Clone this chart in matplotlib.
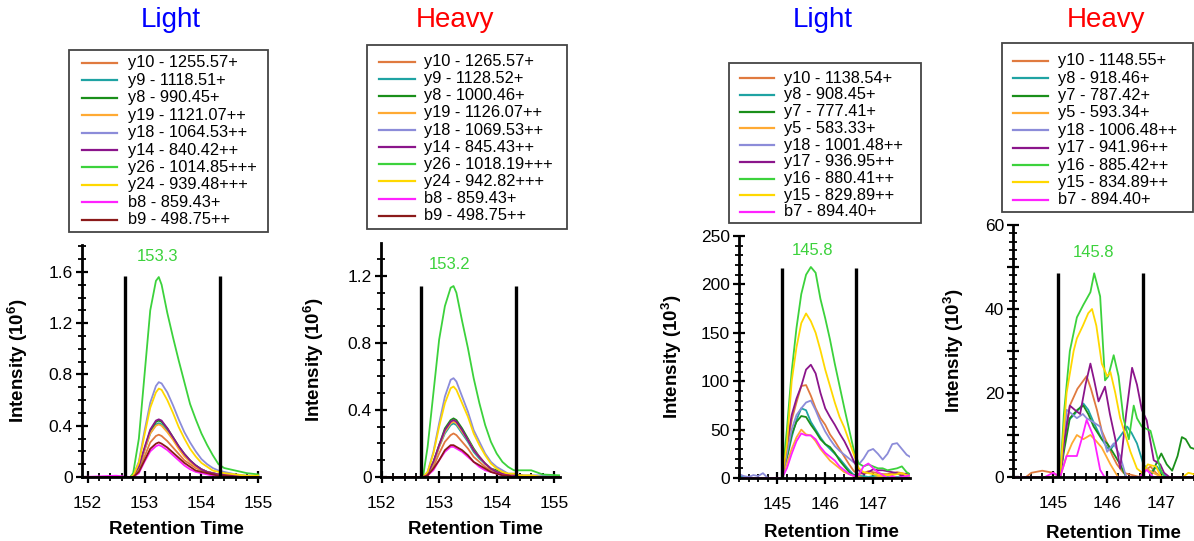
import matplotlib
matplotlib.use("Agg")
import matplotlib.pyplot as plt
from matplotlib import rcParams
from matplotlib.lines import Line2D
from matplotlib.patches import Rectangle
from matplotlib.ticker import MultipleLocator, FuncFormatter

rcParams['font.family'] = 'sans-serif'
rcParams['font.sans-serif'] = ['Liberation Sans', 'DejaVu Sans']
rcParams['mathtext.fontset'] = 'custom'
rcParams['mathtext.rm'] = 'Liberation Sans'
rcParams['mathtext.bf'] = 'Liberation Sans:bold'

# ---------------- data ----------------
colours = ['#E07A3F', '#1FA3A3', '#1A8F1A', '#FFAA33', '#8C8CD9',
           '#8B158B', '#3CD23C', '#FFD800', '#FF22FF', '#8B1A1A']

# panel 1 : Light, first peptide (intensity x 10^6)
light1_labels = ['y10 - 1255.57+', 'y9 - 1118.51+', 'y8 - 990.45+', 'y19 - 1121.07++',
                 'y18 - 1064.53++', 'y14 - 840.42++', 'y26 - 1014.85+++', 'y24 - 939.48+++',
                 'b8 - 859.43+', 'b9 - 498.75++']
light1_time = [151.9, 152.5, 152.75, 152.8, 152.9, 153.0, 153.1, 153.2, 153.25, 153.3, 153.4, 153.5,
               153.6, 153.7, 153.8, 153.9, 154.0, 154.1, 154.2, 154.3, 154.4, 154.6, 154.8, 155.0]
light1_int = [
    [0, 0, 0, 0.01, 0.05, 0.16, 0.27, 0.32, 0.33, 0.32, 0.28, 0.23, 0.18, 0.13, 0.1, 0.07, 0.05, 0.03, 0.02, 0.02, 0.01, 0.01, 0, 0],
    [0, 0, 0, 0.01, 0.07, 0.21, 0.34, 0.41, 0.42, 0.41, 0.36, 0.3, 0.23, 0.17, 0.12, 0.09, 0.06, 0.04, 0.03, 0.02, 0.01, 0.01, 0, 0],
    [0, 0, 0, 0.01, 0.07, 0.22, 0.36, 0.43, 0.44, 0.43, 0.38, 0.31, 0.24, 0.18, 0.13, 0.09, 0.06, 0.04, 0.03, 0.02, 0.02, 0.01, 0, 0],
    [0, 0, 0, 0.01, 0.07, 0.21, 0.34, 0.4, 0.41, 0.4, 0.35, 0.29, 0.22, 0.16, 0.12, 0.08, 0.06, 0.04, 0.03, 0.02, 0.01, 0.01, 0, 0],
    [0, 0, 0, 0.01, 0.12, 0.36, 0.58, 0.71, 0.74, 0.73, 0.66, 0.56, 0.45, 0.35, 0.27, 0.2, 0.14, 0.1, 0.07, 0.05, 0.04, 0.02, 0.01, 0.01],
    [0, 0, 0, 0.01, 0.08, 0.23, 0.37, 0.44, 0.45, 0.44, 0.38, 0.31, 0.24, 0.18, 0.13, 0.09, 0.06, 0.04, 0.03, 0.02, 0.02, 0.01, 0, 0],
    [0, 0, 0, 0.03, 0.3, 0.8, 1.3, 1.53, 1.56, 1.5, 1.28, 1.09, 0.91, 0.74, 0.57, 0.45, 0.34, 0.25, 0.17, 0.1, 0.07, 0.05, 0.03, 0.02],
    [0, 0, 0, 0.01, 0.11, 0.33, 0.54, 0.66, 0.69, 0.68, 0.6, 0.5, 0.39, 0.3, 0.22, 0.16, 0.11, 0.08, 0.05, 0.04, 0.03, 0.02, 0.01, 0.01],
    [0, 0.01, 0, 0, 0.03, 0.12, 0.2, 0.24, 0.25, 0.24, 0.21, 0.17, 0.13, 0.09, 0.06, 0.04, 0.03, 0.02, 0.01, 0.01, 0, 0, 0, 0],
    [0, 0, 0, 0, 0.04, 0.13, 0.22, 0.26, 0.27, 0.26, 0.23, 0.19, 0.15, 0.11, 0.08, 0.05, 0.04, 0.03, 0.02, 0.01, 0.01, 0, 0, 0],
]

# panel 2 : Heavy, first peptide (intensity x 10^6)
heavy1_labels = ['y10 - 1265.57+', 'y9 - 1128.52+', 'y8 - 1000.46+', 'y19 - 1126.07++',
                 'y18 - 1069.53++', 'y14 - 845.43++', 'y26 - 1018.19+++', 'y24 - 942.82+++',
                 'b8 - 859.43+', 'b9 - 498.75++']
heavy1_time = [151.95, 152.5, 152.72, 152.8, 152.9, 153.0, 153.1, 153.2, 153.25, 153.3, 153.4, 153.5,
               153.6, 153.7, 153.8, 153.9, 154.0, 154.1, 154.2, 154.3, 154.4, 154.6, 154.8, 155.1]
heavy1_int = [
    [0, 0, 0, 0.01, 0.06, 0.14, 0.21, 0.25, 0.26, 0.25, 0.21, 0.17, 0.12, 0.09, 0.06, 0.04, 0.03, 0.02, 0.01, 0.01, 0, 0, 0, 0],
    [0, 0, 0, 0.02, 0.08, 0.18, 0.26, 0.31, 0.32, 0.31, 0.26, 0.21, 0.15, 0.11, 0.08, 0.05, 0.03, 0.02, 0.01, 0.01, 0.01, 0, 0, 0],
    [0, 0, 0, 0.02, 0.09, 0.19, 0.29, 0.34, 0.35, 0.34, 0.29, 0.23, 0.17, 0.12, 0.08, 0.05, 0.04, 0.02, 0.01, 0.01, 0.01, 0, 0, 0],
    [0, 0, 0, 0.02, 0.08, 0.18, 0.27, 0.32, 0.33, 0.32, 0.27, 0.22, 0.16, 0.12, 0.08, 0.05, 0.03, 0.02, 0.01, 0.01, 0.01, 0, 0, 0],
    [0, 0, 0, 0.03, 0.15, 0.32, 0.48, 0.58, 0.59, 0.57, 0.48, 0.39, 0.28, 0.21, 0.14, 0.09, 0.06, 0.04, 0.02, 0.02, 0.01, 0.01, 0.01, 0],
    [0, 0, 0, 0.02, 0.09, 0.19, 0.28, 0.33, 0.34, 0.33, 0.28, 0.22, 0.16, 0.12, 0.08, 0.05, 0.03, 0.02, 0.01, 0.01, 0.01, 0, 0, 0],
    [0, 0, 0, 0.18, 0.5, 0.82, 1.02, 1.13, 1.14, 1.1, 0.93, 0.77, 0.59, 0.44, 0.31, 0.21, 0.14, 0.09, 0.06, 0.04, 0.04, 0.04, 0.015, 0.01],
    [0, 0, 0, 0.03, 0.14, 0.3, 0.44, 0.53, 0.54, 0.52, 0.44, 0.36, 0.26, 0.19, 0.13, 0.08, 0.05, 0.03, 0.02, 0.02, 0.01, 0.01, 0, 0],
    [0, 0, 0, 0.01, 0.04, 0.1, 0.15, 0.18, 0.18, 0.17, 0.15, 0.12, 0.09, 0.06, 0.04, 0.03, 0.02, 0.01, 0.01, 0, 0, 0, 0, 0],
    [0, 0, 0, 0.01, 0.05, 0.1, 0.16, 0.19, 0.19, 0.18, 0.16, 0.13, 0.09, 0.07, 0.05, 0.03, 0.02, 0.01, 0.01, 0, 0, 0, 0, 0],
]

# panel 3 : Light, second peptide (intensity x 10^3)
light2_labels = ['y10 - 1138.54+', 'y8 - 908.45+', 'y7 - 777.41+', 'y5 - 583.33+',
                 'y18 - 1001.48++', 'y17 - 936.95++', 'y16 - 880.41++', 'y15 - 829.89++',
                 'b7 - 894.40+']
light2_time = [144.2, 144.3, 144.4, 144.5, 144.6, 144.7, 144.8, 144.9, 145.0, 145.1, 145.2, 145.3,
               145.4, 145.5, 145.6, 145.7, 145.8, 145.9, 146.0, 146.1, 146.2, 146.3, 146.4, 146.5,
               146.6, 146.7, 146.8, 146.9, 147.0, 147.1, 147.2, 147.3, 147.4, 147.5, 147.6, 147.7, 147.8]
light2_int = [
    [0, 0, 0, 0, 0, 0, 0, 0, 0, 0, 30, 60, 78, 95, 96, 85, 72, 62, 55, 45, 38, 30, 22, 14, 7, 4, 5, 7, 6, 5, 4, 4, 5, 6, 5, 4, 3],
    [2, 1, 0, 0, 0, 0, 0, 0, 0, 0, 20, 42, 60, 72, 70, 58, 50, 42, 35, 30, 25, 20, 14, 8, 3, 2, 2, 1, 2, 2, 1, 1, 1, 1, 1, 1, 1],
    [0, 0, 0, 0, 0, 0, 0, 0, 0, 0, 22, 45, 58, 64, 63, 55, 48, 40, 35, 32, 26, 18, 12, 6, 2, 1, 0, 0, 0, 0, 0, 0, 0, 0, 0, 0, 0],
    [0, 0, 0, 0, 0, 0, 0, 0, 0, 0, 15, 30, 42, 50, 45, 44, 38, 30, 24, 18, 14, 10, 6, 4, 2, 1, 0, 0, 0, 1, 2, 3, 4, 5, 4, 3, 2],
    [4, 2, 1, 3, 2, 5, 0, 0, 0, 0, 25, 50, 65, 72, 78, 80, 70, 58, 48, 40, 33, 28, 24, 20, 16, 14, 20, 28, 30, 25, 19, 25, 35, 36, 30, 24, 21],
    [0, 0, 0, 0, 0, 0, 0, 0, 0, 0, 35, 65, 82, 95, 112, 117, 108, 88, 72, 63, 55, 46, 38, 28, 17, 8, 4, 6, 9, 8, 8, 7, 6, 5, 2, 5, 3],
    [0, 0, 0, 0, 0, 0, 0, 0, 0, 0, 50, 110, 155, 190, 210, 218, 212, 185, 165, 143, 118, 95, 72, 50, 28, 15, 12, 14, 12, 10, 10, 8, 9, 10, 12, 6, 3],
    [0, 0, 0, 0, 0, 0, 0, 0, 0, 0, 35, 100, 135, 160, 170, 162, 150, 132, 112, 95, 78, 63, 52, 38, 24, 10, 6, 5, 4, 3, 3, 3, 3, 4, 5, 3, 2],
    [0, 0, 0, 0, 0, 0, 0, 0, 0, 0, 10, 25, 38, 46, 44, 44, 40, 32, 26, 22, 18, 12, 8, 4, 2, 3, 12, 15, 10, 6, 3, 0, 2, 0, 1, 2, 3],
]

# panel 4 : Heavy, second peptide (intensity x 10^3), each trace has its own time points
heavy2_labels = ['y10 - 1148.55+', 'y8 - 918.46+', 'y7 - 787.42+', 'y5 - 593.34+',
                 'y18 - 1006.48++', 'y17 - 941.96++', 'y16 - 885.42++', 'y15 - 834.89++',
                 'b7 - 894.40+']
heavy2_time = [
    [144.25, 144.5, 144.6, 144.8, 145.0, 145.13, 145.25, 145.31, 145.45, 145.62, 145.7, 145.81, 145.9, 146.0, 146.1, 146.18, 146.3, 146.6, 146.7, 146.8, 146.9, 147.0, 147.8],
    [144.25, 145.13, 145.25, 145.4, 145.56, 145.65, 145.75, 145.9, 146.0, 146.06, 146.2, 146.37, 146.45, 146.55, 146.67, 146.8, 146.92, 147.0, 147.1, 147.8],
    [144.25, 145.13, 145.2, 145.31, 145.45, 145.56, 145.65, 145.75, 145.9, 146.0, 146.1, 146.24, 146.35, 146.8, 146.9, 147.0, 147.1, 147.2, 147.3, 147.38, 147.45, 147.54, 147.65, 147.8],
    [144.25, 145.13, 145.25, 145.35, 145.44, 145.56, 145.69, 145.8, 145.9, 146.06, 146.2, 146.6, 146.73, 146.85, 147.0, 147.8],
    [144.25, 145.13, 145.2, 145.25, 145.35, 145.44, 145.55, 145.62, 145.75, 145.87, 146.0, 146.12, 146.24, 146.35, 146.5, 147.8],
    [144.25, 145.13, 145.2, 145.31, 145.4, 145.5, 145.6, 145.69, 145.76, 145.84, 145.96, 146.05, 146.15, 146.24, 146.35, 146.46, 146.55, 146.64, 146.73, 146.86, 146.98, 147.05, 147.15, 147.8],
    [144.25, 145.13, 145.2, 145.31, 145.44, 145.56, 145.69, 145.76, 145.87, 145.96, 146.02, 146.12, 146.21, 146.3, 146.4, 146.49, 146.55, 146.64, 146.8, 146.9, 146.98, 147.05, 147.8],
    [144.25, 145.13, 145.25, 145.38, 145.44, 145.55, 145.65, 145.72, 145.8, 145.9, 146.0, 146.06, 146.15, 146.24, 146.43, 146.55, 146.65, 146.75, 146.9, 147.0, 147.4, 147.5, 147.65, 147.8],
    [144.25, 144.85, 145.0, 145.13, 145.25, 145.44, 145.55, 145.62, 145.75, 145.87, 145.95, 146.6, 146.73, 146.85, 147.8],
]
heavy2_int = [
    [0, 0, 1, 1.5, 1, 0, 12, 17, 21, 24, 21, 16, 11, 8, 5, 3, 1, 0, 1.5, 2.5, 1, 0, 0],
    [0, 0, 13, 15, 17.5, 16, 13, 9, 7, 6.5, 9, 12, 10.5, 8, 3, 1, 2.5, 1, 0, 0],
    [0, 0, 6, 14, 16, 17, 15, 12, 9, 8, 6, 3, 0, 0, 3, 5.6, 3, 1.5, 5, 9.5, 9, 7, 6.5, 6],
    [0, 0, 5, 8, 10, 9, 10, 8.5, 7, 3, 0, 0, 2, 1, 0, 0],
    [0, 0, 8, 16, 15, 14, 15, 14, 13, 12, 6, 8, 5, 0, 0, 0],
    [0, 0, 8, 17, 16, 15, 22, 27, 23, 18, 21.5, 15, 9, 2, 15, 26, 22, 16, 13.5, 4, 3, 1, 0, 0],
    [0, 0, 15, 30, 38, 41, 44, 48.5, 43, 23, 24, 29, 24, 14, 9, 17, 14, 12, 11, 6, 2, 0, 0],
    [0, 0, 20, 30, 33, 36, 39, 40, 36, 27, 24, 25, 20, 14, 6, 2, 1, 3, 2.5, 0, 0, 1, 0.5, 0],
    [0, 0, 1, 0, 5, 5, 10, 13.6, 9.6, 1.7, 0, 0, 1.7, 0, 0],
]

# integration boundaries, apex labels
light1_bounds, light1_apex = (152.66, 154.33), 153.3
heavy1_bounds, heavy1_apex = (152.68, 154.33), 153.2
light2_bounds, light2_apex = (145.1, 146.65), 145.8
heavy2_bounds, heavy2_apex = (145.1, 146.66), 145.8

# ---------------- drawing ----------------
W, H = 1194, 541
fig = plt.figure(figsize=(W / 100, H / 100), dpi=100, facecolor='white')


def px_axes(x0, ytop, x1, ybot):
    return fig.add_axes([x0 / W, 1 - ybot / H, (x1 - x0) / W, (ybot - ytop) / H])


def px_legend(box, hx0, hx1, tx, y0, pitch, labels):
    bx0, by0, bx1, by1 = box
    fig.add_artist(Rectangle((bx0 / W, 1 - by1 / H), (bx1 - bx0) / W, (by1 - by0) / H,
                             fill=False, ec='#444444', lw=1.3, transform=fig.transFigure))
    for i, lab in enumerate(labels):
        y = 1 - (y0 + i * pitch) / H
        fig.add_artist(Line2D([hx0 / W, hx1 / W], [y, y], color=colours[i], lw=1.6,
                              transform=fig.transFigure))
        fig.text(tx / W, y, lab, fontsize=11.8, va='center', ha='left')


def style_axes(ax, xlim, ylim, ymaj, ymin, yfmt, ylabel, ylab_x, xlab_x):
    ax.set_xlim(*xlim)
    ax.set_ylim(*ylim)
    for s in ['top', 'right']:
        ax.spines[s].set_visible(False)
    for s in ['left', 'bottom']:
        ax.spines[s].set_linewidth(2)
    ax.xaxis.set_major_locator(MultipleLocator(1))
    ax.xaxis.set_minor_locator(MultipleLocator(0.2))
    ax.yaxis.set_major_locator(MultipleLocator(ymaj))
    ax.yaxis.set_minor_locator(MultipleLocator(ymin))
    ax.yaxis.set_major_formatter(FuncFormatter(yfmt))
    ax.tick_params(axis='both', which='major', direction='inout', length=9, width=1.6,
                   labelsize=12.5)
    ax.tick_params(axis='both', which='minor', direction='inout', length=6, width=1.3)
    ax.tick_params(axis='x', which='major', pad=9)
    ax.tick_params(axis='y', which='major', pad=2)
    ax.set_ylabel(ylabel, fontsize=13.5, fontweight='bold', va='bottom')
    ax.yaxis.set_label_coords(ylab_x, 0.5)
    ax.set_xlabel('Retention Time', fontsize=13.5, fontweight='bold', va='top')
    ax.xaxis.set_label_coords(xlab_x, -0.19)


def mark(ax, bounds, top, apex, apex_xy):
    ax.vlines(bounds, 0, top, colors='black', lw=2.4, zorder=5)
    ax.text(apex_xy[0], apex_xy[1], '%.1f' % apex, color='#3CD23C', fontsize=12,
            ha='center', va='center')


fmt_dec = lambda v, p: '0' if abs(v) < 1e-9 else '%.1f' % v
fmt_int = lambda v, p: '%d' % round(v)

# panel 1
ax1 = px_axes(82, 245, 260, 477)
for i in range(len(light1_labels)):
    ax1.plot(light1_time, light1_int[i], color=colours[i], lw=1.3)
mark(ax1, light1_bounds, 1.57, light1_apex, (153.22, 1.72))
style_axes(ax1, (151.9, 155.03), (0, 1.81), 0.4, 0.1, fmt_dec,
           r'Intensity (10$^{\mathbf{6}}$)', -0.29, 0.53)

# panel 2
ax2 = px_axes(381, 243, 560, 477)
for i in range(len(heavy1_labels)):
    ax2.plot(heavy1_time, heavy1_int[i], color=colours[i], lw=1.3)
mark(ax2, heavy1_bounds, 1.14, heavy1_apex, (153.18, 1.27))
style_axes(ax2, (151.99, 155.1), (0, 1.397), 0.4, 0.1, fmt_dec,
           r'Intensity (10$^{\mathbf{6}}$)', -0.31, 0.53)

# panel 3
ax3 = px_axes(739, 236, 910, 478)
for i in range(len(light2_labels)):
    ax3.plot(light2_time, light2_int[i], color=colours[i], lw=1.3)
mark(ax3, light2_bounds, 217, light2_apex, (145.74, 235))
style_axes(ax3, (144.2, 147.77), (0, 250), 50, 10, fmt_int,
           r'Intensity (10$^{\mathbf{3}}$)', -0.32, 0.54)

# panel 4
ax4 = px_axes(1013, 225, 1203, 477)
for i in range(len(heavy2_labels)):
    ax4.plot(heavy2_time[i], heavy2_int[i], color=colours[i], lw=1.3)
mark(ax4, heavy2_bounds, 48.6, heavy2_apex, (145.75, 53.4))
style_axes(ax4, (144.26, 147.77), (0, 60), 20, 2, fmt_int,
           r'Intensity (10$^{\mathbf{3}}$)', -0.25, 0.53)
ax4.yaxis.set_major_locator(MultipleLocator(10))
ax4.yaxis.set_major_formatter(FuncFormatter(lambda v, p: '%d' % v if round(v) % 20 == 0 else ''))

# legends
px_legend((69, 50, 268, 232), 82, 117, 128, 63, 17.4, light1_labels)
px_legend((367, 45, 567, 229), 379, 415, 424, 61.7, 17.1, heavy1_labels)
px_legend((729, 63, 921, 223), 740, 774, 784, 78.3, 16.7, light2_labels)
px_legend((1002, 43, 1193, 212), 1013, 1048, 1058, 60.7, 17.4, heavy2_labels)

# titles
for x, txt, c in [(171, 'Light', '#0000FF'), (455, 'Heavy', '#FF0000'),
                  (823, 'Light', '#0000FF'), (1106, 'Heavy', '#FF0000')]:
    fig.text(x / W, 1 - 20 / H, txt, color=c, fontsize=20, ha='center', va='center')

plt.savefig('out.png', dpi=100, facecolor='white')
